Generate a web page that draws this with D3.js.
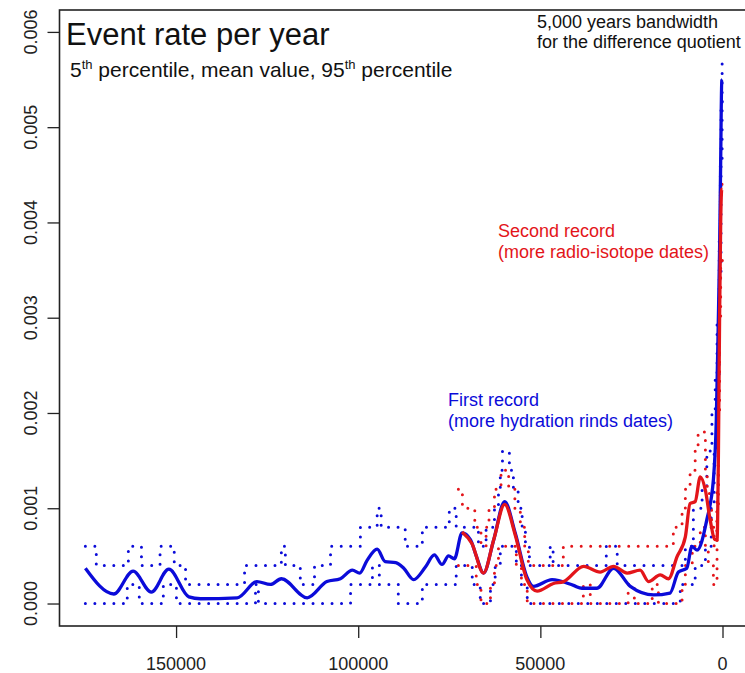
<!DOCTYPE html>
<html>
<head>
<meta charset="utf-8">
<script src="https://cdn.jsdelivr.net/npm/d3@7"></script>
<style>
body { margin: 0; background: #fff; }
svg { display: block; font-family: "Liberation Sans", Arial, sans-serif; }
</style>
</head>
<body>
<svg width="745" height="673"></svg>
<script>
// years before present, event rate per year
let blueMean = [
  [174900, 0.00037], [167100, 0.00010], [161800, 0.00034], [156800, 0.00012],
  [152000, 0.00036], [146500, 0.00007], [143300, 0.00005], [133200, 0.00006],
  [127800, 0.00023], [124100, 0.00020], [121100, 0.00026], [114000, 0.00006],
  [108600, 0.00023], [104900, 0.00026], [101600, 0.00035], [99600, 0.00032],
  [97600, 0.00045], [94800, 0.00057], [92600, 0.00044], [89700, 0.00043],
  [87500, 0.00037], [84800, 0.00025], [81600, 0.00038], [79100, 0.00051],
  [77000, 0.00041], [75200, 0.00050], [73600, 0.00047], [71500, 0.00074],
  [69200, 0.00067], [67600, 0.00050], [65600, 0.00032], [62800, 0.00067],
  [59800, 0.00107], [56900, 0.00074], [53700, 0.00028], [51900, 0.00018],
  [46800, 0.00025], [40900, 0.00019], [38600, 0.00016], [34500, 0.00016],
  [29900, 0.00037], [25300, 0.00018], [18900, 0.00009], [14400, 0.00011],
  [12100, 0.00033], [9800, 0.00037], [8400, 0.00060], [7000, 0.00056],
  [4300, 0.00088], [2500, 0.00130], [1700, 0.00193], [1200, 0.00287],
  [800, 0.00371], [500, 0.00465], [200, 0.00549], [0, 0.00550]
];

let redMean = [
  [71500, 0.00075], [68800, 0.00063], [65600, 0.00032], [62800, 0.00067],
  [59800, 0.00104], [56900, 0.00072], [53700, 0.00025], [50900, 0.00013],
  [46400, 0.00021], [43600, 0.00023], [38100, 0.00039], [33600, 0.00033],
  [29900, 0.00039], [26200, 0.00032], [22600, 0.00035], [20300, 0.00023],
  [17100, 0.00030], [14800, 0.00026], [12500, 0.00049], [10200, 0.00070],
  [8900, 0.00105], [7500, 0.00107], [6100, 0.00133], [4700, 0.00119],
  [3400, 0.00088], [2000, 0.00067], [1500, 0.00067], [1100, 0.00165],
  [800, 0.00300], [500, 0.00400], [200, 0.00435], [0, 0.00435]
];

// percentiles (step values)
let blueP95 = [
  [174900, 0.0006], [171900, 0.0004], [163100, 0.0006], [159500, 0.0004],
  [154400, 0.0006], [150500, 0.0004], [147400, 0.0002], [131200, 0.0004],
  [121100, 0.0006], [120000, 0.0004], [115900, 0.0002], [112000, 0.0004],
  [107600, 0.0006], [99400, 0.0008], [94800, 0.0010], [93700, 0.0008],
  [87100, 0.0006], [82400, 0.0008], [75000, 0.0010], [73100, 0.0008],
  [67000, 0.0006], [64900, 0.0008], [62600, 0.0010], [61500, 0.0012],
  [61000, 0.0014], [60400, 0.0016], [58500, 0.0014], [57400, 0.0012],
  [56100, 0.0010], [55000, 0.0008], [54100, 0.0006], [53000, 0.0004],
  [47300, 0.0006], [46500, 0.0004], [31900, 0.0006], [28900, 0.0004],
  [10200, 0.0006], [8000, 0.0010], [5600, 0.0012], [4300, 0.0016],
  [2900, 0.0020], [2000, 0.0024], [1500, 0.0030], [900, 0.0038],
  [600, 0.0046], [400, 0.0052], [100, 0.0057], [0, 0.0057]
];

let blueP05 = [
  [174900, 0], [163400, 0.0002], [160100, 0], [153500, 0.0002],
  [149900, 0], [128200, 0.0002], [127400, 0], [102100, 0.0002],
  [96100, 0.0004], [94200, 0.0002], [89000, 0], [82400, 0.0002],
  [73100, 0.0004], [68700, 0.0002], [66500, 0], [63700, 0.0002],
  [62400, 0.0004], [61000, 0.0006], [56600, 0.0004], [55200, 0.0002],
  [53600, 0], [11600, 0.0002], [7500, 0.0004], [4700, 0.0006],
  [3100, 0.0010], [2300, 0.0016], [1500, 0.0024], [900, 0.0034],
  [400, 0.0046], [100, 0.0053], [0, 0.0053]
];

let redP95 = [
  [72500, 0.0012], [71400, 0.0010], [68000, 0.0008], [66300, 0.0006],
  [64900, 0.0008], [64100, 0.0010], [62600, 0.0012], [60800, 0.0014],
  [58700, 0.0012], [57000, 0.0010], [55500, 0.0008], [54300, 0.0006],
  [53300, 0.0004], [43700, 0.0006], [13500, 0.0008], [11100, 0.0010],
  [10200, 0.0012], [8900, 0.0014], [7500, 0.0016], [6700, 0.0018],
  [4700, 0.0014], [4200, 0.0012], [3600, 0.0010], [3000, 0.0008],
  [2300, 0.0006], [1500, 0.0012], [1200, 0.0020], [900, 0.0032],
  [600, 0.0044], [0, 0.0044]
];

let redP05 = [
  [72500, 0.0004], [67600, 0.0002], [66300, 0], [63700, 0.0002],
  [62600, 0.0004], [61500, 0.0006], [56600, 0.0004], [55200, 0.0002],
  [53600, 0], [38200, 0.0002], [36300, 0], [25900, 0.0002],
  [24200, 0], [19300, 0.0002], [17600, 0], [11100, 0.0002],
  [10200, 0.0004], [8300, 0.0006], [6100, 0.0008], [4700, 0.0006],
  [3900, 0.0004], [2500, 0.0002], [1500, 0.0010], [1100, 0.0020],
  [800, 0.0030], [500, 0.0036], [0, 0.0036]
];

let xTicks = [150000, 100000, 50000, 0];
let yTicks = [0, 0.001, 0.002, 0.003, 0.004, 0.005, 0.006];

let blue = "#0b0bd9",
  red = "#e3151a";

let svg = d3.select("svg"),
  plotLeft = 59.5,
  plotRight = 748,
  plotTop = 10,
  plotBottom = 626;

let x = d3.scaleLinear().domain([182000, -7000]).range([plotLeft, plotRight]),
  y = d3.scaleLinear().domain([-0.000236, 0.00623]).range([plotBottom, plotTop]);

// axes
svg.append("g")
  .attr("transform", "translate(0," + plotBottom + ")")
  .call(d3.axisBottom(x).tickValues(xTicks).tickSize(12).tickFormat(""));
svg.append("g")
  .attr("transform", "translate(" + plotLeft + ",0)")
  .call(d3.axisLeft(y).tickValues(yTicks).tickSize(12).tickFormat(""));
svg.selectAll(".domain").remove();
svg.selectAll(".tick line").attr("stroke", "#222").attr("stroke-width", 1.3);

svg.append("g")
  .selectAll("text")
  .data(xTicks)
  .enter()
  .append("text")
  .attr("x", function (d) { return x(d); })
  .attr("y", 670)
  .attr("text-anchor", "middle")
  .attr("font-size", 18)
  .attr("fill", "#222")
  .text(function (d) { return d; });

svg.append("g")
  .selectAll("text")
  .data(yTicks)
  .enter()
  .append("text")
  .attr("transform", function (d) {
    return "translate(37," + y(d) + ") rotate(-90)";
  })
  .attr("text-anchor", "middle")
  .attr("font-size", 18)
  .attr("fill", "#222")
  .text(function (d) { return d3.format(".3f")(d); });

svg.append("rect")
  .attr("x", plotLeft)
  .attr("y", plotTop)
  .attr("width", plotRight - plotLeft)
  .attr("height", plotBottom - plotTop)
  .attr("fill", "none")
  .attr("stroke", "#222")
  .attr("stroke-width", 1.6);

// series
let stepLine = d3.line()
  .x(function (d) { return x(d[0]); })
  .y(function (d) { return y(d[1]); })
  .curve(d3.curveStepAfter);

let smoothLine = d3.line()
  .x(function (d) { return x(d[0]); })
  .y(function (d) { return y(d[1]); })
  .curve(d3.curveMonotoneX);

function dotted(data, color) {
  svg.append("path")
    .datum(data)
    .attr("d", stepLine)
    .attr("fill", "none")
    .attr("stroke", color)
    .attr("stroke-width", 3)
    .attr("stroke-linecap", "round")
    .attr("stroke-dasharray", "0 9.5");
}

dotted(blueP95, blue);
dotted(blueP05, blue);
dotted(redP95, red);
dotted(redP05, red);

svg.append("path")
  .datum(blueMean)
  .attr("d", smoothLine)
  .attr("fill", "none")
  .attr("stroke", blue)
  .attr("stroke-width", 3.3);

svg.append("path")
  .datum(redMean)
  .attr("d", smoothLine)
  .attr("fill", "none")
  .attr("stroke", red)
  .attr("stroke-width", 3.3);

// texts
svg.append("text")
  .attr("x", 66)
  .attr("y", 45)
  .attr("font-size", 31)
  .attr("fill", "#111")
  .text("Event rate per year");

let sub = svg.append("text")
  .attr("x", 70)
  .attr("y", 77)
  .attr("font-size", 21)
  .attr("fill", "#111");
sub.append("tspan").text("5");
sub.append("tspan").attr("font-size", 13).attr("dy", -8).text("th");
sub.append("tspan").attr("dy", 8).text(" percentile, mean value, 95");
sub.append("tspan").attr("font-size", 13).attr("dy", -8).text("th");
sub.append("tspan").attr("dy", 8).text(" percentile");

let note = svg.append("text")
  .attr("font-size", 18)
  .attr("fill", "#111");
note.append("tspan").attr("x", 537).attr("y", 28).text("5,000 years bandwidth");
note.append("tspan").attr("x", 537).attr("y", 48).text("for the difference quotient");

let redNote = svg.append("text")
  .attr("font-size", 18)
  .attr("fill", red);
redNote.append("tspan").attr("x", 498).attr("y", 237).text("Second record");
redNote.append("tspan").attr("x", 498).attr("y", 258).text("(more radio-isotope dates)");

let blueNote = svg.append("text")
  .attr("font-size", 18)
  .attr("fill", blue);
blueNote.append("tspan").attr("x", 448).attr("y", 406).text("First record");
blueNote.append("tspan").attr("x", 448).attr("y", 427).text("(more hydration rinds dates)");
</script>
</body>
</html>
